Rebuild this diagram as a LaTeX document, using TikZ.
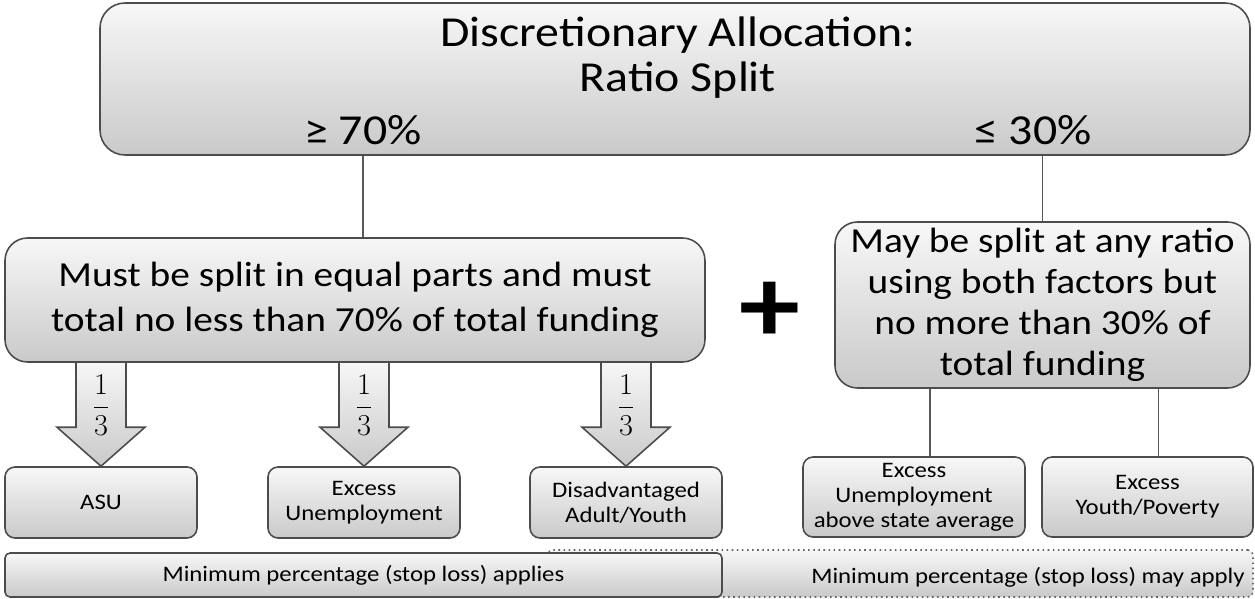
\documentclass[tikz,border=0pt]{standalone}
\usepackage{fontspec}
\setmainfont{Carlito}[FakeStretch=1.12]
\usetikzlibrary{calc}

\begin{document}
\begin{tikzpicture}[
    box/.style={draw=black!70, line width=0.9pt, top color=gray!6, bottom color=gray!42, align=center, inner sep=0pt},
    link/.style={draw=black!65, line width=0.9pt},
    big/.style={font=\fontsize{24.3}{25.6}\selectfont, align=center},
    mid/.style={font=\fontsize{20}{25.5}\selectfont, align=center},
    tiny/.style={font=\fontsize{12.6}{14.2}\selectfont, align=center}]
  \useasboundingbox (0,0) rectangle (25.1,-11.98);
  % top box
  \node[box, rounded corners=0.5cm, minimum width=23cm, minimum height=3.04cm] (ratio) at (13.5,-1.58) {};
  \node[big] (title) at (13.56,-1.15) {Discretionary Allocation:\\Ratio Split};
  \node[big] (least) at (7.26,-2.6) {≥ 70\%};
  \node[big] (most) at (20.66,-2.6) {≤ 30\%};
  % small boxes
  \node[box, tiny, rounded corners=0.2cm, minimum width=3.84cm, minimum height=1.42cm] (asu) at (2.02,-10.05) {ASU};
  \node[box, tiny, rounded corners=0.2cm, minimum width=3.84cm, minimum height=1.42cm] (excess) at (7.28,-10.05) {Excess\\Unemployment};
  \node[box, tiny, rounded corners=0.2cm, minimum width=3.84cm, minimum height=1.42cm] (disadv) at (12.52,-10.05) {Disadvantaged\\Adult/Youth};
  \node[box, tiny, rounded corners=0.2cm, minimum width=4.44cm, minimum height=1.6cm] (aboveavg) at (18.28,-9.94) {Excess\\Unemployment\\above state average};
  \node[box, tiny, rounded corners=0.2cm, minimum width=4.22cm, minimum height=1.6cm] (youth) at (22.95,-9.94) {Excess\\Youth/Poverty};
  % block arrows (1/3 each)
  \foreach \t in {asu,excess,disadv}{
    \draw[box] ($(\t.north)+(-0.5,2.12)$) -- ++(0,-1.34) -- ++(-0.38,0) -- (\t.north)
      -- ++(0.88,0.78) -- ++(-0.38,0) -- ++(0,1.34) -- cycle;
    \node[font=\fontsize{19}{22}\selectfont] (third-\t) at ($(\t.north)+(0,1.22)$) {$\displaystyle\frac{1}{3}$};
  }
  % middle boxes
  \node[box, mid, rounded corners=0.45cm, minimum width=14cm, minimum height=2.48cm] (equal) at (7.1,-6.0) {Must be split in equal parts and must\\total no less than 70\% of total funding};
  \node[box, mid, font=\fontsize{20}{23.3}\selectfont, rounded corners=0.45cm, minimum width=8.3cm, minimum height=3.32cm] (anyratio) at (20.85,-6.1) {May be split at any ratio\\using both factors but\\no more than 30\% of\\total funding};
  \node[font=\fontsize{62}{62}\selectfont\bfseries] (plus) at (15.4,-6.24) {+};
  % links
  \draw[link] (ratio.south -| least) -- (equal.north -| least);
  \draw[link] (ratio.south -| anyratio) -- (anyratio.north);
  \draw[link] ($(anyratio.south -| aboveavg)+(0.32,0)$) -- ($(aboveavg.north)+(0.32,0)$);
  \draw[link] ($(anyratio.south -| youth)+(0.22,0)$) -- ($(youth.north)+(0.22,0)$);
  % stop loss bars
  \node[box, draw=black!60, dotted, rounded corners=0.1cm, minimum width=14.1cm, minimum height=0.94cm] (mayapply) at (18.01,-11.47) {};
  \node[tiny] (maytext) at (20.56,-11.54) {Minimum percentage (stop loss) may apply};
  \node[box, tiny, rounded corners=0.1cm, minimum width=14.34cm, minimum height=0.88cm] (applies) at (7.27,-11.5) {Minimum percentage (stop loss) applies};
\end{tikzpicture}
\end{document}
